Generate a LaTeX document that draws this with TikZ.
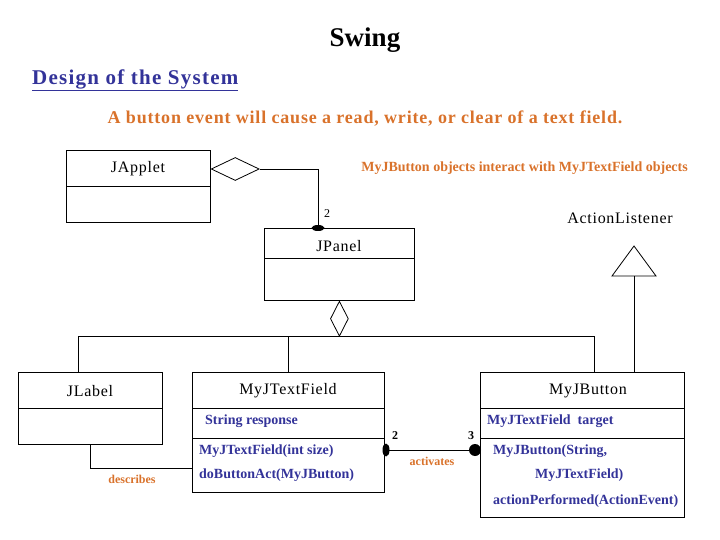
\documentclass[tikz,border=0pt]{standalone}
\usepackage{fontspec}
\setmainfont{Liberation Serif}
\newfontfamily\spacedfont[LetterSpace=4.5]{Liberation Serif}
\newfontfamily\widefont[LetterSpace=6]{Liberation Serif}
\usetikzlibrary{shapes.geometric,positioning}

\definecolor{umlblue}{HTML}{333399}
\definecolor{umlorange}{HTML}{D9722B}

\tikzset{
    umlclass/.style={draw, line width=0.8pt, anchor=north west, inner sep=0pt},
    classname/.style={font=\spacedfont\fontsize{16}{18}\selectfont},
    member/.style={font=\bfseries\fontsize{14}{16}\selectfont, text=umlblue, anchor=west, inner sep=0pt},
    note/.style={font=\bfseries\fontsize{12}{14}\selectfont, text=umlorange},
    mult/.style={font=\fontsize{12}{14}\selectfont, inner sep=0pt},
    aggr/.style={draw, diamond, line width=0.8pt, inner sep=0pt, fill=white},
    link/.style={line width=0.8pt}
}

\begin{document}
\begin{tikzpicture}[x=1pt,y=-1pt]
    \useasboundingbox (0,0) rectangle (720,540);

    % Titles
    \node[font=\bfseries\fontsize{27}{30}\selectfont] (title) at (365,40) {Swing};
    \node[font=\widefont\bfseries\fontsize{21}{24}\selectfont, text=umlblue, anchor=west, inner sep=0pt] (design) at (32,80) {\underline{Design of the System}};
    \node[note, font=\spacedfont\bfseries\fontsize{18}{20}\selectfont] (intro) at (365,119) {A button event will cause a read, write, or clear of a text field.};
    \node[note, font=\bfseries\fontsize{14}{16}\selectfont, anchor=east, inner sep=0pt] (interact) at (688,168) {MyJButton objects interact with MyJTextField objects};

    % Classes
    \node[umlclass, minimum width=144pt, minimum height=72pt] (japplet) at (66,150) {};
    \node[umlclass, minimum width=150pt, minimum height=72pt] (jpanel) at (264,228) {};
    \node[umlclass, minimum width=144pt, minimum height=72pt] (jlabel) at (18,372) {};
    \node[umlclass, minimum width=192pt, minimum height=120pt] (mytext) at (192,372) {};
    \node[umlclass, minimum width=204pt, minimum height=145pt] (mybutton) at (480,372) {};

    % Compartments
    \draw[line width=0.8pt] (66,186) -- (210,186);
    \draw[line width=0.8pt] (264,258) -- (414,258);
    \draw[line width=0.8pt] (18,408) -- (162,408);
    \foreach \y in {408,438} {
        \draw[line width=0.8pt] (192,\y) -- (384,\y);
        \draw[line width=0.8pt] (480,\y) -- (684,\y);
    }

    % Class names
    \node[classname] (japplet-name) at (138,169) {JApplet};
    \node[classname] (jpanel-name) at (339,246) {JPanel};
    \node[classname] (jlabel-name) at (90,391) {JLabel};
    \node[classname] (mytext-name) at (288,391) {MyJTextField};
    \node[classname] (mybutton-name) at (588,391) {MyJButton};
    \node[classname] (listener) at (620,218) {ActionListener};

    % Members
    \node[member] (response) at (205,421) {String response};
    \node[member] (ctor1) at (199,451) {MyJTextField(int size)};
    \node[member] (act) at (199,475) {doButtonAct(MyJButton)};
    \node[member] (target) at (487,421) {MyJTextField\ \ target};
    \node[member] (ctor2) at (493,451) {MyJButton(String,};
    \node[member] (ctor2b) at (535,475) {MyJTextField)};
    \node[member] (performed) at (493,501) {actionPerformed(ActionEvent)};

    % JApplet holds JPanel
    \node[aggr, minimum width=48pt, minimum height=23pt, anchor=west] (agg1) at (japplet.east |- japplet-name) {};
    \coordinate (panelend) at ([xshift=54pt]jpanel.north west);
    \draw[link] (agg1.east) -| (panelend);
    \fill (panelend) ellipse (6.5pt and 3pt);
    \node[mult, anchor=west] (m1) at (324,214) {2};

    % JPanel holds the components
    \node[aggr, minimum width=18pt, minimum height=35pt, below=0pt of jpanel] (agg2) {};
    \coordinate (dropL) at ([xshift=-12pt]jlabel.north);
    \coordinate (dropT) at (mytext.north);
    \coordinate (dropB) at ([xshift=12pt]mybutton.north);
    \draw[link] (dropL) |- (agg2.south) -| (dropB);
    \draw[link] (dropT) -- (dropT |- agg2.south);

    % ActionListener
    \coordinate (genbase) at (634,276);
    \draw[link] (612,276) -- (634,246) -- (656,276) -- cycle;
    \draw[link] (genbase) -- (genbase |- mybutton.north);

    % describes
    \coordinate (descL) at (90,468);
    \draw[link] (descL |- jlabel.south) -- (descL) -- (descL -| mytext.west);
    \node[note] (describes) at (132,479) {describes};

    % activates
    \coordinate (actL) at (384,450);
    \coordinate (actR) at (480,450);
    \draw[link] (actL) -- (actR);
    \fill (386,450) ellipse (3.5pt and 6.5pt);
    \fill (475,450) circle (6pt);
    \node[mult, font=\bfseries\fontsize{12}{14}\selectfont] (m2) at (395,436) {2};
    \node[mult, font=\bfseries\fontsize{12}{14}\selectfont] (m3) at (471,436) {3};
    \node[note] (activates) at (432,461) {activates};
\end{tikzpicture}
\end{document}
